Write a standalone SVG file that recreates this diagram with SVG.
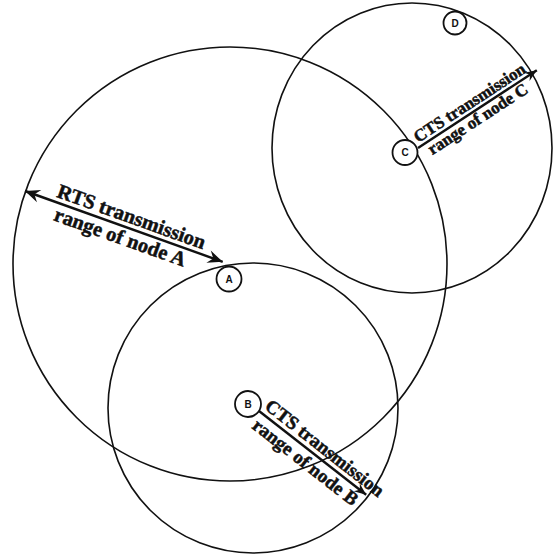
<svg xmlns="http://www.w3.org/2000/svg" width="554" height="556" viewBox="0 0 554 556">
<style>
.range{fill:none;stroke:#111;stroke-width:1.6}
.node circle{fill:#fff;stroke:#111;stroke-width:1.8}
.node text{font-family:"Liberation Sans",Arial,sans-serif;font-size:10px;font-weight:bold;text-anchor:middle;fill:#111}
.lbl{font-family:"Liberation Serif","Times New Roman",serif;font-weight:bold;fill:#111;stroke:#111;stroke-width:0.5}
.arr{stroke:#111;stroke-width:2.4;fill:none}
</style>
<defs>
<marker id="ah" markerUnits="userSpaceOnUse" viewBox="-16 -8 17 16" refX="0" refY="0" markerWidth="17" markerHeight="16" orient="auto-start-reverse">
<path d="M0,0 L-15,-6.5 L-10,0 L-15,6.5 Z" fill="#111"/>
</marker>
<marker id="ahs" markerUnits="userSpaceOnUse" viewBox="-14 -7 15 14" refX="0" refY="0" markerWidth="15" markerHeight="14" orient="auto">
<path d="M0,0 L-12,-5 L-8,0 L-12,5 Z" fill="#111"/>
</marker>
</defs>
<rect width="554" height="556" fill="#fff"/>
<g id="ranges">
<circle class="range" cx="230" cy="264" r="217"/>
<circle class="range" cx="253" cy="408" r="145"/>
<ellipse class="range" cx="412" cy="148" rx="140" ry="145"/>
</g>
<g id="connectors">
<g transform="translate(25,191) rotate(19.7)">
<line class="arr" x1="0" y1="0" x2="210" y2="0" marker-start="url(#ah)" marker-end="url(#ah)"/>
<text class="lbl" x="31" y="-5" font-size="20.5">RTS transmission</text>
<text class="lbl" x="36" y="18" font-size="20.5">range of node A</text>
</g>
<g transform="translate(259,411) rotate(38)">
<line class="arr" x1="0" y1="0" x2="136" y2="0" marker-end="url(#ahs)"/>
<text class="lbl" x="2" y="-5" font-size="19">CTS transmission</text>
<text class="lbl" x="4" y="18" font-size="19">range of node B</text>
</g>
<g transform="translate(418,148) rotate(-33.2)">
<line class="arr" x1="0" y1="0" x2="142" y2="0" marker-end="url(#ahs)"/>
<text class="lbl" x="3" y="-4" font-size="17">CTS transmission</text>
<text class="lbl" x="8" y="14" font-size="17">range of node C</text>
</g>
</g>
<g id="nodeA" class="node"><circle cx="229" cy="279" r="12.5"/><text x="229" y="282.5">A</text></g>
<g id="nodeB" class="node"><circle cx="248" cy="404" r="13"/><text x="248" y="407.5">B</text></g>
<g id="nodeC" class="node"><circle cx="405" cy="152.5" r="12.5"/><text x="405" y="156">C</text></g>
<g id="nodeD" class="node"><circle cx="455" cy="23" r="11.5"/><text x="455" y="26.5">D</text></g>
</svg>
